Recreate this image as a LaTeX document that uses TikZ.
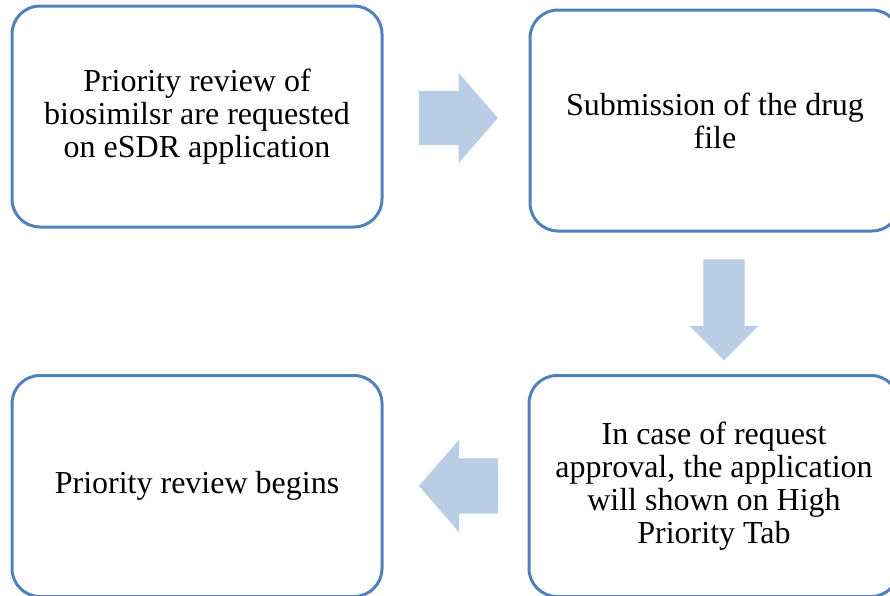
\documentclass[tikz,border=0pt]{standalone}
\usepackage{fontspec}
\setmainfont{Liberation Serif}
\usetikzlibrary{shapes.arrows}
\definecolor{boxblue}{HTML}{4F81BD}
\definecolor{arrowblue}{HTML}{B9CDE5}
\begin{document}
\begin{tikzpicture}[
        x=1pt, y=-1pt,
        stepbox/.style={draw=boxblue, line width=3pt, rounded corners=28pt, fill=white,
            minimum width=370pt, minimum height=221pt, align=center,
            font=\fontsize{32}{33}\selectfont},
        blockarrow/.style={single arrow, fill=arrowblue, draw=none, inner xsep=0pt,
            single arrow head indent=0pt},
    ]
    \useasboundingbox (0,0) rectangle (890,595);
    \clip (0,0) rectangle (890,595);
    \node[stepbox](request) at (197,116.5){Priority review of\\biosimilsr are requested\\on eSDR application};
    \node[stepbox](submit) at (715,120.5){Submission of the drug\\file};
    \node[stepbox](approval) at (714,486){In case of request\\approval, the application\\will shown on High\\Priority Tab};
    \node[stepbox](begins) at (197,486){Priority review begins};
    % arrows between the steps
    \node[blockarrow, minimum height=79pt, inner ysep=27pt, single arrow head extend=18pt,
        single arrow tip angle=98](toright) at (446.5,118){};
    \node[blockarrow, minimum height=101pt, inner ysep=20.5pt, single arrow head extend=13.5pt,
        single arrow tip angle=90, rotate=-90](todown) at (724,299.5){};
    \node[blockarrow, minimum height=79pt, inner ysep=27.5pt, single arrow head extend=18.5pt,
        single arrow tip angle=98, rotate=180](toleft) at (470.5,486){};
\end{tikzpicture}
\end{document}
